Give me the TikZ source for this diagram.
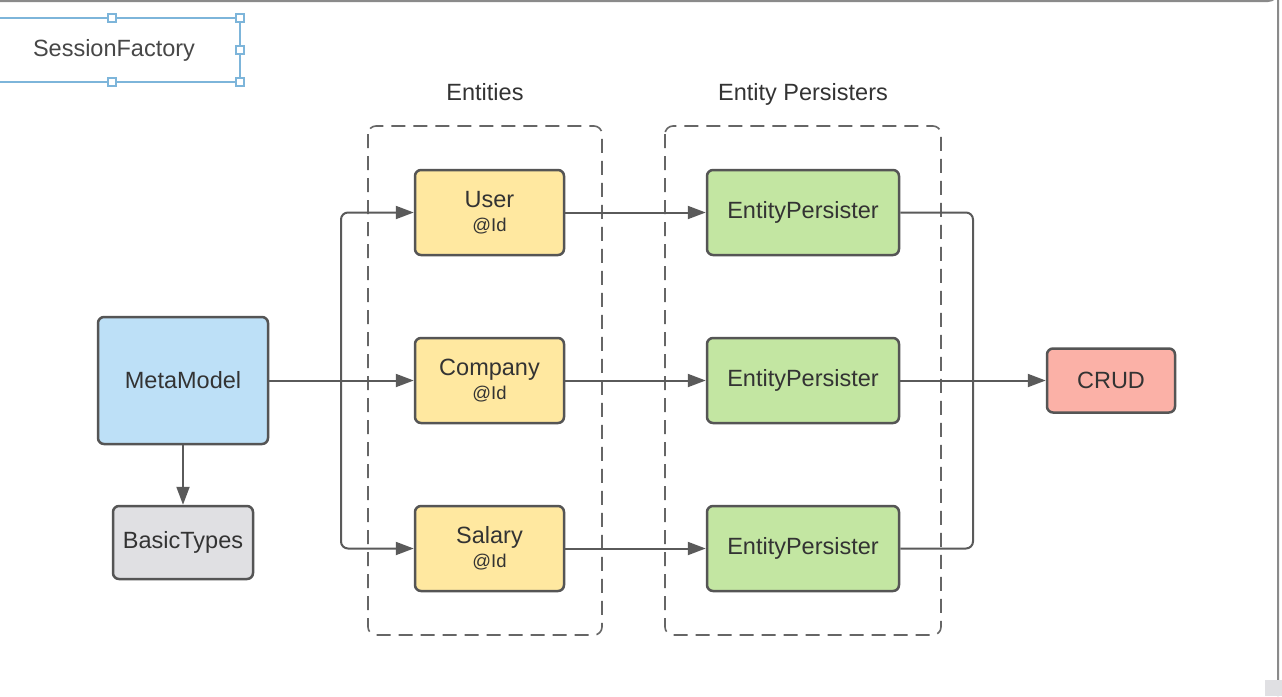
\documentclass[tikz,border=0pt]{standalone}
\usepackage{fontspec}
\setmainfont{Liberation Sans}
\usetikzlibrary{arrows.meta}
\definecolor{edgec}{HTML}{555555}
\definecolor{linec}{HTML}{5A5A5A}
\definecolor{txt}{HTML}{333333}
\definecolor{yel}{HTML}{FFE8A0}
\definecolor{grn}{HTML}{C3E6A2}
\definecolor{blu}{HTML}{BDE0F7}
\definecolor{gry}{HTML}{E0E0E3}
\definecolor{red}{HTML}{FBB1A7}
\definecolor{sel}{HTML}{7DB5DA}
\definecolor{frame}{HTML}{8A8A8A}
\tikzset{
  box/.style={draw=edgec, line width=2.5pt, rounded corners=6pt, text=txt,
    align=center, inner sep=0pt, font=\fontsize{23.5}{26}\selectfont},
  conn/.style={draw=linec, line width=2pt},
  arr/.style={conn, -{Triangle[length=18pt,width=13pt]}},
  group/.style={draw=edgec!90, line width=1.6pt, dash pattern=on 14pt off 8pt, rounded corners=8pt},
  lbl/.style={text=txt, font=\fontsize{23.5}{26}\selectfont, inner sep=0pt},
  handle/.style={draw=sel, fill=white, line width=1.2pt, minimum size=8pt, inner sep=0pt}
}
\newcommand{\idtxt}{\\[-2pt]{\fontsize{18.5}{21}\selectfont @Id}}
\begin{document}
\begin{tikzpicture}[x=1pt,y=-1pt]
\useasboundingbox (0,0) rectangle (1282,696);
\fill[white] (0,0) rectangle (1282,696);
% screen frame
\draw[frame, line width=2pt] (0,1) -- (1268,1) arc[start angle=90, end angle=0, radius=10] -- (1278,696);
\fill[gry] (1265,680) rectangle (1282,696);

% SessionFactory selection
\draw[sel, line width=1.5pt] (0,18) -- (240,18) -- (240,82) -- (0,82);
\node[lbl, text=txt!90] (sf) at (114,50) {SessionFactory};
\foreach \p/\n in {{(112,18)}/h1,{(240,18)}/h2,{(240,50)}/h3,{(112,82)}/h4,{(240,82)}/h5}
  \node[handle] (\n) at \p {};

% group labels and containers
\node[lbl] (entl) at (485,92) {Entities};
\node[lbl, anchor=base] (epl) at (803,100) {Entity Persisters};
\draw[group] (368,126) rectangle (602,635);
\draw[group] (665,126) rectangle (941,635);

% nodes
\node[box, fill=blu, minimum width=170pt, minimum height=127pt] (meta) at (183,380.5) {MetaModel};
\node[box, fill=gry, minimum width=140pt, minimum height=73pt] (basic) at (183,542.5) {BasicTypes};
\node[box, fill=yel, minimum width=149pt, minimum height=85pt] (user) at (489.5,212.5) {User\idtxt};
\node[box, fill=yel, minimum width=149pt, minimum height=85pt] (company) at (489.5,380.5) {Company\idtxt};
\node[box, fill=yel, minimum width=149pt, minimum height=85pt] (salary) at (489.5,548.5) {Salary\idtxt};
\node[box, fill=grn, minimum width=192pt, minimum height=85pt] (ep1) at (803,212.5) {EntityPersister};
\node[box, fill=grn, minimum width=192pt, minimum height=85pt] (ep2) at (803,380.5) {EntityPersister};
\node[box, fill=grn, minimum width=192pt, minimum height=85pt] (ep3) at (803,548.5) {EntityPersister};
\node[box, fill=red, minimum width=128pt, minimum height=64pt] (crud) at (1111,380.5) {CRUD};

% connectors
\coordinate (j1) at (341,380.5);
\coordinate (j2) at (973,380.5);
\draw[arr] (meta.east) -- (company.west);
\draw[arr, rounded corners=7pt] (j1) |- (user.west);
\draw[arr, rounded corners=7pt] (j1) |- (salary.west);
\draw[arr] (meta.south) -- (basic.north);
\draw[arr] (user.east) -- (ep1.west);
\draw[arr] (company.east) -- (ep2.west);
\draw[arr] (salary.east) -- (ep3.west);
\draw[conn, rounded corners=7pt] (ep1.east) -| (j2);
\draw[conn, rounded corners=7pt] (ep3.east) -| (j2);
\draw[arr] (ep2.east) -- (crud.west);
\end{tikzpicture}
\end{document}
